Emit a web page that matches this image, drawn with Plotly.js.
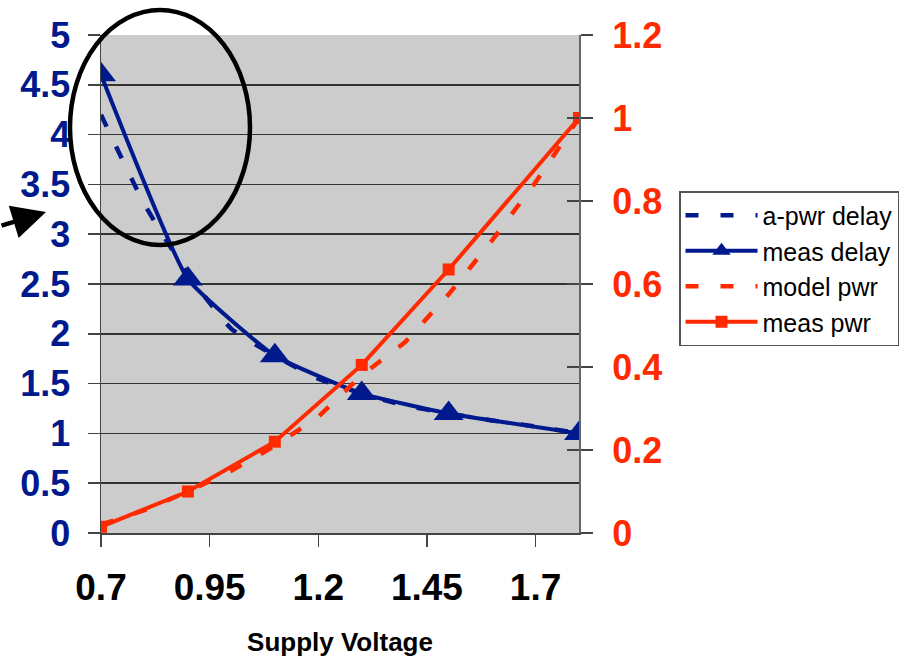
<!DOCTYPE html>
<html>
<head>
<meta charset="utf-8">
<script src="https://cdn.plot.ly/plotly-3.0.1.min.js"></script>
<style>html,body{margin:0;padding:0;background:#fff;}#chart{width:913px;height:657px;}</style>
</head>
<body>
<div id="chart"></div>
<script>
// Supply voltage grid
const voltFine = [0.7, 0.8, 0.9, 1.0, 1.1, 1.2, 1.3, 1.4, 1.5, 1.6, 1.7, 1.8];
const voltMeas = [0.7, 0.9, 1.1, 1.3, 1.5, 1.8];

// Delay (left axis)
const aPwrDelay = [4.2, 3.3, 2.6, 2.05, 1.78, 1.55, 1.4, 1.28, 1.2, 1.13, 1.07, 1.0];
const measDelay = [4.6, 2.55, 1.78, 1.4, 1.2, 1.0];

// Power (right axis)
const modelPwr = [0.02, 0.055, 0.1, 0.15, 0.21, 0.28, 0.38, 0.46, 0.575, 0.705, 0.845, 1.0];
const measPwr = [0.015, 0.1, 0.22, 0.405, 0.635, 1.0];

const xTicks = [0.7, 0.95, 1.2, 1.45, 1.7];
const seriesNames = ['a-pwr delay', 'meas delay', 'model pwr', 'meas pwr'];

const BLUE = '#00198C';
const RED = '#FF2A00';
const FONT = 'Liberation Sans, Arial, sans-serif';

const traces = [
  {x: voltFine, y: aPwrDelay, name: seriesNames[0], type: 'scatter', mode: 'lines',
   line: {color: BLUE, width: 4.5, dash: '13px,22px', shape: 'spline', smoothing: 0.5}, yaxis: 'y'},
  {x: voltMeas, y: measDelay, name: seriesNames[1], type: 'scatter', mode: 'lines+markers',
   line: {color: BLUE, width: 4, shape: 'spline', smoothing: 0.4},
   marker: {symbol: 'triangle-up', size: 26, color: BLUE}, yaxis: 'y'},
  {x: voltFine, y: modelPwr, name: seriesNames[2], type: 'scatter', mode: 'lines',
   line: {color: RED, width: 4.5, dash: '13px,22px'}, yaxis: 'y2'},
  {x: voltMeas, y: measPwr, name: seriesNames[3], type: 'scatter', mode: 'lines+markers',
   line: {color: RED, width: 4},
   marker: {symbol: 'square', size: 12, color: RED}, yaxis: 'y2'}
];

const L = 101, R = 579, T = 35, B = 533, W = 913, H = 657;
const px = v => (v - L) / (R - L);
const py = v => (B - v) / (B - T);

const layout = {
  width: W, height: H,
  margin: {l: L, r: W - R, t: T, b: H - B, pad: 0},
  paper_bgcolor: '#ffffff',
  plot_bgcolor: '#CCCCCC',
  font: {family: FONT},
  showlegend: true,
  legend: {
    x: px(679), y: py(191), xanchor: 'left', yanchor: 'top',
    bgcolor: '#ffffff', bordercolor: '#555555', borderwidth: 1.5,
    font: {size: 25, color: '#000000', family: FONT},
    tracegroupgap: 0, itemwidth: 72
  },
  xaxis: {
    range: [0.7, 1.8], tickmode: 'array', tickvals: xTicks, ticktext: xTicks.map(String),
    showgrid: false, zeroline: false,
    showline: true, linecolor: '#444444', linewidth: 1.5,
    ticks: 'outside', ticklen: 12, tickwidth: 1.5, tickcolor: '#444444',
    ticklabelstandoff: 9,
    tickfont: {size: 37, color: '#000000', family: FONT, weight: 'bold'},
    title: {text: '<b>Supply Voltage</b>', font: {size: 26, color: '#000000'}, standoff: 38},
    automargin: false
  },
  yaxis: {
    range: [0, 5], dtick: 0.5, tick0: 0,
    showgrid: true, gridcolor: '#333333', gridwidth: 1.5,
    zeroline: false, showline: true, linecolor: '#444444', linewidth: 1.5,
    ticks: 'outside', ticklen: 12, tickwidth: 1.5, tickcolor: '#444444',
    ticklabelstandoff: 10,
    tickfont: {size: 36, color: BLUE, family: FONT, weight: 'bold'},
    automargin: false
  },
  yaxis2: {
    range: [0, 1.2], dtick: 0.2, tick0: 0, overlaying: 'y', side: 'right',
    showgrid: false, zeroline: false, showline: true, linecolor: '#666666', linewidth: 2,
    ticks: 'outside', ticklen: 12, tickwidth: 1.5, tickcolor: '#444444',
    ticklabelstandoff: 12,
    tickfont: {size: 36, color: RED, family: FONT, weight: 'bold'},
    automargin: false
  },
  yaxis3: {
    range: [0, 1.2], dtick: 0.2, tick0: 0, overlaying: 'y', side: 'right',
    showgrid: false, zeroline: false, showline: false, showticklabels: false,
    ticks: 'inside', ticklen: 12, tickwidth: 1.5, tickcolor: '#444444',
    automargin: false
  },
  shapes: [
    {type: 'circle', xref: 'paper', yref: 'paper',
     x0: px(70), x1: px(250), y0: py(245), y1: py(10),
     line: {color: '#000000', width: 4.5}, fillcolor: 'rgba(0,0,0,0)', layer: 'above'}
  ],
  annotations: [
    {xref: 'paper', yref: 'paper', x: px(46), y: py(212), text: '', showarrow: true,
     ax: -52, ay: 14, arrowhead: 2, arrowsize: 1.5, arrowwidth: 4.5, arrowcolor: '#000000'}
  ]
};

// invisible trace so the inside tick marks of the right axis are drawn
traces.push({x: [0.7], y: [0], yaxis: 'y3', mode: 'markers', marker: {opacity: 0}, showlegend: false, hoverinfo: 'skip'});

Plotly.newPlot('chart', traces, layout, {displayModeBar: false, staticPlot: true});
</script>
</body>
</html>
